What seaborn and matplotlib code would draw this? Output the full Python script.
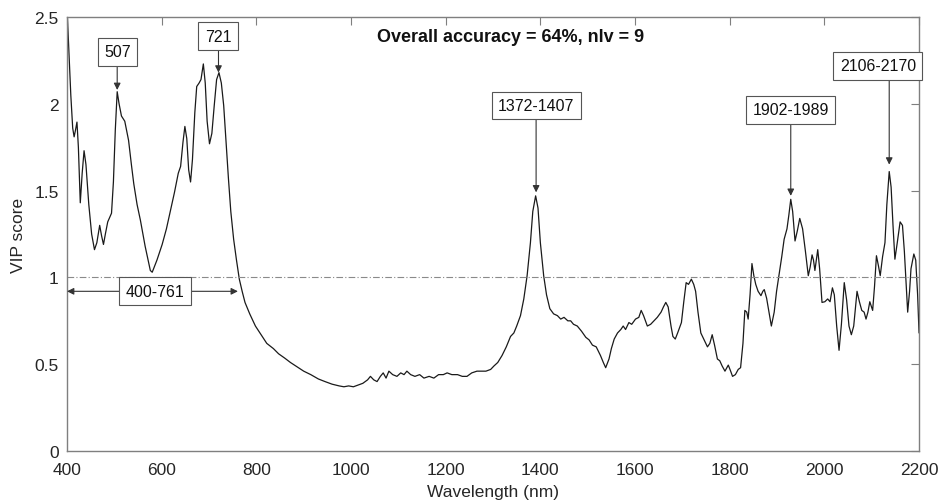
import numpy as np
import pandas as pd
import matplotlib
matplotlib.use("Agg")
import matplotlib.pyplot as plt
import seaborn as sns

wavelength = [400, 404, 408, 412, 415, 418, 421, 424, 428, 432, 436, 440, 446, 452, 458, 463, 469, 473, 477, 481,
              486, 494, 498, 502, 506, 510, 515, 522, 530, 536, 541, 548, 555, 565, 576, 580, 590, 601, 610, 618,
              627, 635, 640, 645, 649, 653, 657, 661, 665, 670, 674, 679, 683, 688, 692, 696, 701, 706, 711, 716,
              721, 726, 731, 736, 741, 746, 752, 758, 764, 770, 776, 786, 798, 810, 822, 836, 847, 860, 872, 886,
              900, 915, 931, 945, 960, 975, 985, 995, 1005, 1015, 1025, 1035, 1041, 1048, 1055, 1062, 1068, 1074,
              1080, 1088, 1097, 1105, 1112, 1118, 1126, 1135, 1145, 1154, 1165, 1175, 1185, 1195, 1203, 1213, 1225,
              1235, 1245, 1255, 1266, 1275, 1285, 1295, 1302, 1310, 1319, 1328, 1337, 1344, 1350, 1358, 1365, 1372,
              1379, 1384, 1390, 1395, 1400, 1407, 1413, 1420, 1428, 1436, 1443, 1450, 1458, 1464, 1470, 1478, 1487,
              1496, 1503, 1510, 1518, 1527, 1533, 1538, 1545, 1550, 1556, 1563, 1570, 1575, 1580, 1587, 1593, 1601,
              1608, 1613, 1618, 1626, 1633, 1640, 1647, 1655, 1660, 1665, 1670, 1676, 1680, 1685, 1690, 1698, 1703,
              1708, 1713, 1719, 1724, 1728, 1733, 1739, 1746, 1753, 1758, 1763, 1768, 1774, 1779, 1784, 1790, 1797,
              1802, 1806, 1812, 1818, 1823, 1828, 1832, 1836, 1839, 1843, 1847, 1851, 1855, 1860, 1866, 1870, 1873,
              1878, 1883, 1888, 1894, 1899, 1904, 1910, 1915, 1921, 1925, 1929, 1933, 1938, 1943, 1948, 1954, 1960,
              1966, 1970, 1974, 1977, 1980, 1983, 1986, 1990, 1995, 2001, 2007, 2012, 2017, 2021, 2026, 2031, 2036,
              2042, 2047, 2052, 2057, 2062, 2069, 2074, 2079, 2084, 2088, 2092, 2096, 2102, 2106, 2110, 2114, 2118,
              2123, 2128, 2132, 2137, 2141, 2145, 2149, 2154, 2160, 2165, 2169, 2173, 2176, 2180, 2183, 2189, 2193,
              2197, 2200]
vip_score = [2.55, 2.30, 2.05, 1.86, 1.81, 1.85, 1.895, 1.75, 1.43, 1.60, 1.73, 1.65, 1.42, 1.25, 1.16, 1.20, 1.30,
             1.24, 1.19, 1.25, 1.32, 1.37, 1.55, 1.85, 2.07, 2.00, 1.93, 1.90, 1.79, 1.65, 1.54, 1.42, 1.33, 1.18,
             1.04, 1.03, 1.10, 1.19, 1.28, 1.38, 1.49, 1.60, 1.64, 1.78, 1.87, 1.80, 1.62, 1.55, 1.68, 1.95, 2.10,
             2.12, 2.14, 2.23, 2.12, 1.90, 1.77, 1.83, 1.99, 2.14, 2.18, 2.12, 1.99, 1.78, 1.57, 1.38, 1.22, 1.10,
             0.99, 0.92, 0.856, 0.79, 0.72, 0.67, 0.62, 0.59, 0.56, 0.535, 0.51, 0.485, 0.46, 0.44, 0.415, 0.40,
             0.385, 0.375, 0.37, 0.375, 0.37, 0.38, 0.39, 0.41, 0.43, 0.41, 0.40, 0.43, 0.45, 0.42, 0.46, 0.44,
             0.43, 0.45, 0.44, 0.46, 0.44, 0.43, 0.44, 0.42, 0.43, 0.42, 0.44, 0.44, 0.45, 0.44, 0.44, 0.43, 0.43,
             0.45, 0.46, 0.46, 0.46, 0.47, 0.49, 0.51, 0.55, 0.60, 0.66, 0.68, 0.72, 0.78, 0.876, 1.01, 1.20, 1.38,
             1.47, 1.40, 1.20, 1.01, 0.90, 0.82, 0.79, 0.78, 0.76, 0.77, 0.75, 0.75, 0.73, 0.72, 0.69, 0.655, 0.64,
             0.61, 0.60, 0.55, 0.51, 0.48, 0.53, 0.59, 0.645, 0.68, 0.70, 0.72, 0.70, 0.74, 0.73, 0.76, 0.77, 0.81,
             0.78, 0.72, 0.73, 0.75, 0.77, 0.80, 0.83, 0.856, 0.83, 0.72, 0.66, 0.645, 0.68, 0.74, 0.86, 0.97, 0.96,
             0.99, 0.96, 0.92, 0.80, 0.68, 0.64, 0.60, 0.62, 0.67, 0.61, 0.53, 0.52, 0.49, 0.46, 0.495, 0.46, 0.43,
             0.44, 0.47, 0.48, 0.62, 0.81, 0.80, 0.76, 0.90, 1.08, 1.01, 0.96, 0.92, 0.895, 0.92, 0.93, 0.88, 0.80,
             0.72, 0.80, 0.92, 1.01, 1.12, 1.22, 1.28, 1.36, 1.45, 1.38, 1.21, 1.27, 1.34, 1.28, 1.15, 1.01, 1.06,
             1.13, 1.10, 1.04, 1.10, 1.16, 1.05, 0.856, 0.86, 0.876, 0.86, 0.94, 0.90, 0.72, 0.58, 0.73, 0.97, 0.87,
             0.72, 0.67, 0.72, 0.92, 0.86, 0.81, 0.80, 0.76, 0.80, 0.86, 0.81, 0.95, 1.125, 1.07, 1.01, 1.12, 1.20,
             1.42, 1.61, 1.52, 1.30, 1.105, 1.20, 1.32, 1.30, 1.15, 0.95, 0.80, 0.92, 1.05, 1.135, 1.10, 0.90, 0.68]

threshold = 1.0
title_text = "Overall accuracy = 64%, nlv = 9"

# annotations: label, text-box centre (wl, vip), arrow start at box bottom (wl, vip), arrow tip (wl, vip)
peak_labels = ["507", "721", "1372-1407", "1902-1989", "2106-2170"]
peak_text_xy = [(507, 2.30), (719, 2.39), (1391, 1.99), (1929, 1.965), (2113, 2.22)]
peak_tail_xy = [(506, 2.23), (720, 2.32), (1391, 1.92), (1929, 1.895), (2137, 2.15)]
peak_tip_xy = [(506, 2.08), (720, 2.18), (1391, 1.49), (1929, 1.47), (2137, 1.65)]
range_label = "400-761"
range_start, range_end, range_y, range_text_x = 400, 761, 0.92, 586

df = pd.DataFrame({"Wavelength": wavelength, "VIP": vip_score})

sns.set_style("white")
plt.rcParams["font.family"] = ["Liberation Sans", "DejaVu Sans"]

fig = plt.figure(figsize=(9.4, 5.02), dpi=100)
ax = fig.add_axes([0.0713, 0.0996, 0.9064, 0.8644])

sns.lineplot(data=df, x="Wavelength", y="VIP", ax=ax, color="#1a1a1a", linewidth=0.9)
ax.axhline(threshold, color="#8a8a8a", linestyle=(0, (6, 2, 1, 2)), linewidth=0.8)

ax.set_xlim(400, 2200)
ax.set_ylim(0, 2.5)
ax.set_xticks(range(400, 2201, 200))
ax.set_yticks([0, 0.5, 1, 1.5, 2, 2.5])
ax.set_yticklabels(["0", "0.5", "1", "1.5", "2", "2.5"])
ax.set_xlabel("Wavelength (nm)", fontsize=12.5, color="#262626", labelpad=5)
ax.set_ylabel("VIP score", fontsize=12.5, color="#262626", labelpad=6)

for sp in ax.spines.values():
    sp.set_visible(True)
    sp.set_color("#7f7f7f")
    sp.set_linewidth(1.0)
ax.tick_params(direction="in", length=6, width=0.8, color="#7f7f7f", top=True, right=True,
               labelsize=12.5, labelcolor="#262626")
ax.tick_params(axis="x", pad=8)
ax.tick_params(axis="y", pad=6)

ax.text(1338, 2.39, title_text, ha="center", va="center", fontsize=13, fontweight="bold", color="#111111")

box = dict(boxstyle="square,pad=0.4", facecolor="white", edgecolor="#555555", linewidth=0.8)
for lab, txy, tail, tip in zip(peak_labels, peak_text_xy, peak_tail_xy, peak_tip_xy):
    ax.annotate("", xy=tip, xytext=tail,
                arrowprops=dict(arrowstyle="-|>", color="#333333", lw=0.8, mutation_scale=10,
                                shrinkA=0, shrinkB=0))
    ax.text(txy[0], txy[1], lab, ha="center", va="center", fontsize=11.5, color="#111111",
            bbox=box, zorder=5)

ax.annotate("", xy=(range_start, range_y), xytext=(range_end, range_y),
            arrowprops=dict(arrowstyle="<|-|>", color="#333333", lw=0.8, mutation_scale=10,
                            shrinkA=0, shrinkB=0))
ax.text(range_text_x, range_y, range_label, ha="center", va="center", fontsize=11.5, color="#111111",
        bbox=box, zorder=5)

fig.savefig("out.png", dpi=100)
